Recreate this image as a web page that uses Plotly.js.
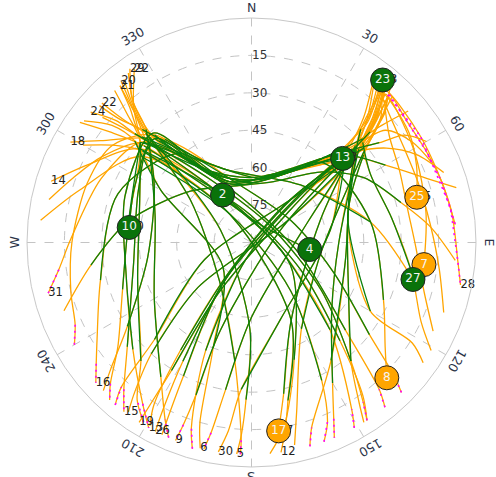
<!DOCTYPE html>
<html><head><meta charset="utf-8">
<script src="https://cdn.plot.ly/plotly-3.0.1.min.js"></script>
<style>html,body{margin:0;padding:0;background:#fff}#chart{width:496px;height:477px}</style>
</head><body><div id="chart"></div>
<script>
// Satellite of each track (one pass per entry)
const trackSat = ['29','22','20','21','24','22','18','14','1','31','16','15','19','13','26','9','6','30','5','12',
                  '2','10','13','23','25','7','27','28','8','4','17','11','3','32','11',
                  '1','3','32','9','6','5','12','30','15','16','19'];
// What is drawn at the last point of each track: 'label' text, 'marker' (current position) or 'none'
const trackEnd = ['label','label','label','label','label','label','label','label','none','label','label','label','label','label','label','label','label','label','label','label',
                  'marker','marker','marker','marker','marker','marker','marker','label','marker','marker','marker','none','none','none','none',
                  'none','none','none','none','none','none','none','none','none','none','none'];
// Signal status of satellites currently tracked (marker colour)
const markerStatus = {'2':'good','10':'good','13':'good','23':'good','4':'good','27':'good','25':'weak','7':'weak','8':'weak','17':'weak'};
// Azimuth (deg) of track points
const trackAz = [
 [141,139,133,104,358.5,326,317,320,325],
 [211,216,223,252,291,312,319,326],
 [203,206,214,240,285,311,318,321],
 [183,183,188,220,305,316,318,320],
 [147,145,140,124.5,47,327,313,312,309],
 [70,62,55,48,30,0,330,318,314,313],
 [135,133,128,110,60,345,320,304,299],
 [151,149,138,104,329,310,296,287],
 [160,157,153,141,323,308,287,276],
 [60,55,52,43,15,340,319,312,293,271,262,256],
 [75,70,60,45,20,340,321,290,256,238,232,228],
 [40,45,49,20,340,314,295,260,230,221,217],
 [37,42,46,50,213,212,212,212],
 [41,47,30,0,330,318,290,255,228,214,209],
 [42,46,50,45,40,215,210,208,207],
 [43,47,48,66.7,199.5,200,200.5,201],
 [306,310,311,300,230,200,196,194],
 [39,44,45,81,159.5,184,187,189],
 [322,319,316,292,181,182,183,184],
 [300,305,310,322.6,153,167,170,172],
 [147,144,138,119,358,328.6],
 [40,43,44,30,0,330,317,296,277],
 [209,211,213.4,217.4,42.5,47.3],
 [164,162,146,100.5,57.7,44,41,38.9],
 [196,198,203,199,46,48,44,41,55,65,74.7],
 [282,290,300,313,330,0,30,49,45,42,60,80,97.3],
 [312,313,316,337.4,40.4,80.2,102.9],
 [125,122,120,75,52,46,41,58,80,95,101.5],
 [320,318,314,333,10,42,80,113.5,128,135],
 [305,308,312,322,27,96.9],
 [38,43,47,72,153,168,171.8],
 [40,44,48,60,80,100,115,121],
 [220,222,225,250,40,50,46,43,52,62,72,85],
 [205,207,215,45,47,50,58,66],
 [250,262,280,310,340,20,45,60,75,85,95],
 [43,46,50,75,120,140,146,148],
 [41,45,49,90,130,150,155,157],
 [44,47,51,100,150,165,168],
 [318,316,312,280,250,232,225,222],
 [324,320,317,300,262,236,228,225],
 [37,43,48,70,180,190,192,193],
 [310,312,314,330,120,160,170,175],
 [41,48,58,70,84,98,110],
 [43,52,64,78,92,106,116],
 [50,48,45,20,340,318,305,290,270,255,245,240],
 [42,46,50,60,230,222,218,216]
];
// Elevation (deg) of track points
const trackEl = [
 [5,12,38.5,70,75,54,33,16,5],
 [6,12,25,42,42,30,18,6],
 [5,11,25,45,50,36,20,7],
 [5,11,42,70,60,29,20,8],
 [5,12,28,56,80,60,26,17,7],
 [8,15,24,36,57,66,57,35,20,8],
 [5,12,30,55,72,65,36,17,7],
 [5,12,43,78,68,31.5,18,6],
 [5,12,28,65,76,34,18,5],
 [9,15,25,42,62,65,42,30,24.5,17.5,12,6],
 [5,15,28,40,61,64,44,33,27.6,17,11,6],
 [7,19,34,61,64,34,40,42,25,12,5],
 [9,23,37,69.6,67,29.5,14,5],
 [10,29,57,65,58,31,36,38,26,12,5],
 [7,17,31,55,75,70,35,15,5],
 [10,25,38,77.3,52.8,25,12,5],
 [7,17,28,48,75,45,15,5],
 [8,23,36,58,57,31,14,5],
 [7,18,31,76.6,55,27,13,5],
 [12,22,33,76,55,25,13,5],
 [5,14,37,67.5,79,67.7],
 [9,21,38,57,65,58,33,38,40.6],
 [6,14,38.4,76.1,66.9,40.3],
 [5,12,33,51.7,43.1,27,14.3,6.3],
 [4,12,43,82.6,62.7,34,19,10.5,13,17,21.3],
 [7,14,21,31,57,64,56,37,19,10,15,19,20.3],
 [8,17,27,57.6,59.7,41.6,23.6],
 [6,14,35,50,33,18,9,10,9,7,4.5],
 [8,17,29,55,64,47,41.6,32.3,22,13.3],
 [6,18,32,63,82,66.5],
 [7,21,33,61,55,28,13.7],
 [8,20,30,35,33,25,15,6],
 [5,12,35,70,70,36,16,9,11,11,10,8],
 [5,30,70,60,35,20,14,11],
 [10,25,40,58,66,64,50,38,28,18,8],
 [9,22,35,50,45,28,13,5],
 [8,20,33,55,48,25,12,5],
 [9,21,32,62,50,20,7],
 [8,18,30,40,35,22,10,5],
 [6,16,28,45,48,30,14,6],
 [8,22,34,66,60,30,12,5],
 [12,22,32,70,72,40,15,5],
 [11,15,18,19,18,14,8],
 [12,20,24,26,24,18,9],
 [8,20,36,62,65,32,22,20,18,15,12,8],
 [10,24,36,75,62,30,14,6]
];
const angleTickVals = [0,30,60,90,120,150,180,210,240,270,300,330];
const angleTickText = ['N','30','60','E','120','150','S','210','240','W','300','330'];
const radialTickVals = [15,30,45,60,75];
const radialTickText = ['15','30','45','60','75'];
const GOOD_EL = 25, LOW_EL = 12.5;

const GREEN = '#0c800c', ORANGE = '#ffa500', MAGENTA = '#ff00ff';
const FONT = 'DejaVu Sans, Verdana, sans-serif';
const traces = [];
const SM = 0.85;
trackAz.forEach((az, i) => traces.push({type:'scatterpolar', mode:'lines', theta:az, r:trackEl[i],
  line:{color:ORANGE, width:1.3, shape:'spline', smoothing:SM}, hoverinfo:'skip'}));
trackAz.forEach((az, i) => traces.push({type:'scatterpolar', mode:'lines', theta:az,
  r:trackEl[i].map(v => v >= GOOD_EL ? v : null), connectgaps:false,
  line:{color:GREEN, width:1.3, shape:'spline', smoothing:SM}, hoverinfo:'skip'}));
trackAz.forEach((az, i) => traces.push({type:'scatterpolar', mode:'lines', theta:az,
  r:trackEl[i].map(v => v <= LOW_EL ? v : null), connectgaps:false,
  line:{color:MAGENTA, width:1.6, dash:'2px,4px'}, hoverinfo:'skip'}));

const lblTheta = [], lblR = [], lblText = [];
const mkTheta = [], mkR = [], mkText = [], mkColor = [];
trackAz.forEach((az, i) => {
  const n = az.length - 1;
  if (trackEnd[i] !== 'none') { lblTheta.push(az[n]); lblR.push(trackEl[i][n]); lblText.push(trackSat[i]); }
  if (trackEnd[i] === 'marker') {
    mkTheta.push(az[n]); mkR.push(trackEl[i][n]); mkText.push(trackSat[i]);
    mkColor.push(markerStatus[trackSat[i]] === 'good' ? '#0a730a' : '#ffa500');
  }
});
traces.push({type:'scatterpolar', mode:'text', theta:lblTheta, r:lblR, text:lblText,
  textposition:'middle right', textfont:{family:FONT, size:11.5, color:'#222'}, hoverinfo:'skip'});
traces.push({type:'scatterpolar', mode:'markers+text', theta:mkTheta, r:mkR, text:mkText,
  textposition:'middle center', textfont:{family:FONT, size:12, color:'#f4f4f4'},
  marker:{size:24, color:mkColor, line:{color:'#222', width:1}}, hoverinfo:'skip'});

// Angular tick labels, rotated tangentially
const W = 496, H = 477, M = {l:27, r:20, t:18, b:10};
const pw = W - M.l - M.r, ph = H - M.t - M.b;
const cx = M.l + pw/2, cy = M.t + ph/2;
const annotations = angleTickVals.map((a, k) => {
  const R = (a % 180 === 0) ? 234.5 : 237.5;
  const t = a*Math.PI/180;
  const px = cx + R*Math.sin(t), py = cy - R*Math.cos(t);
  return {xref:'paper', yref:'paper', x:(px - M.l)/pw, y:(H - M.b - py)/ph, text:angleTickText[k],
    showarrow:false, textangle:a, xanchor:'center', yanchor:'middle',
    font:{family:FONT, size:12.5, color:'#2b3347'}};
});

const layout = {
  width:W, height:H, margin:M, paper_bgcolor:'#fff', showlegend:false, hovermode:false,
  font:{family:FONT, size:11, color:'#333'},
  polar:{domain:{x:[0,1], y:[0,1]}, bgcolor:'#fff',
    radialaxis:{range:[90,0], tickmode:'array', tickvals:radialTickVals, ticktext:radialTickText,
      angle:90, tickangle:90, ticks:'', showline:false, gridcolor:'#c4c4c4', griddash:'dash', gridwidth:1,
      tickfont:{family:FONT, size:12, color:'#333'}},
    angularaxis:{rotation:90, direction:'clockwise', tickmode:'array', tickvals:angleTickVals,
      showticklabels:false, ticks:'', showline:true, linecolor:'#c8c8c8', linewidth:1,
      gridcolor:'#c4c4c4', griddash:'dash', gridwidth:1}},
  annotations
};
Plotly.newPlot('chart', traces, layout, {staticPlot:true, displayModeBar:false});
</script></body></html>
